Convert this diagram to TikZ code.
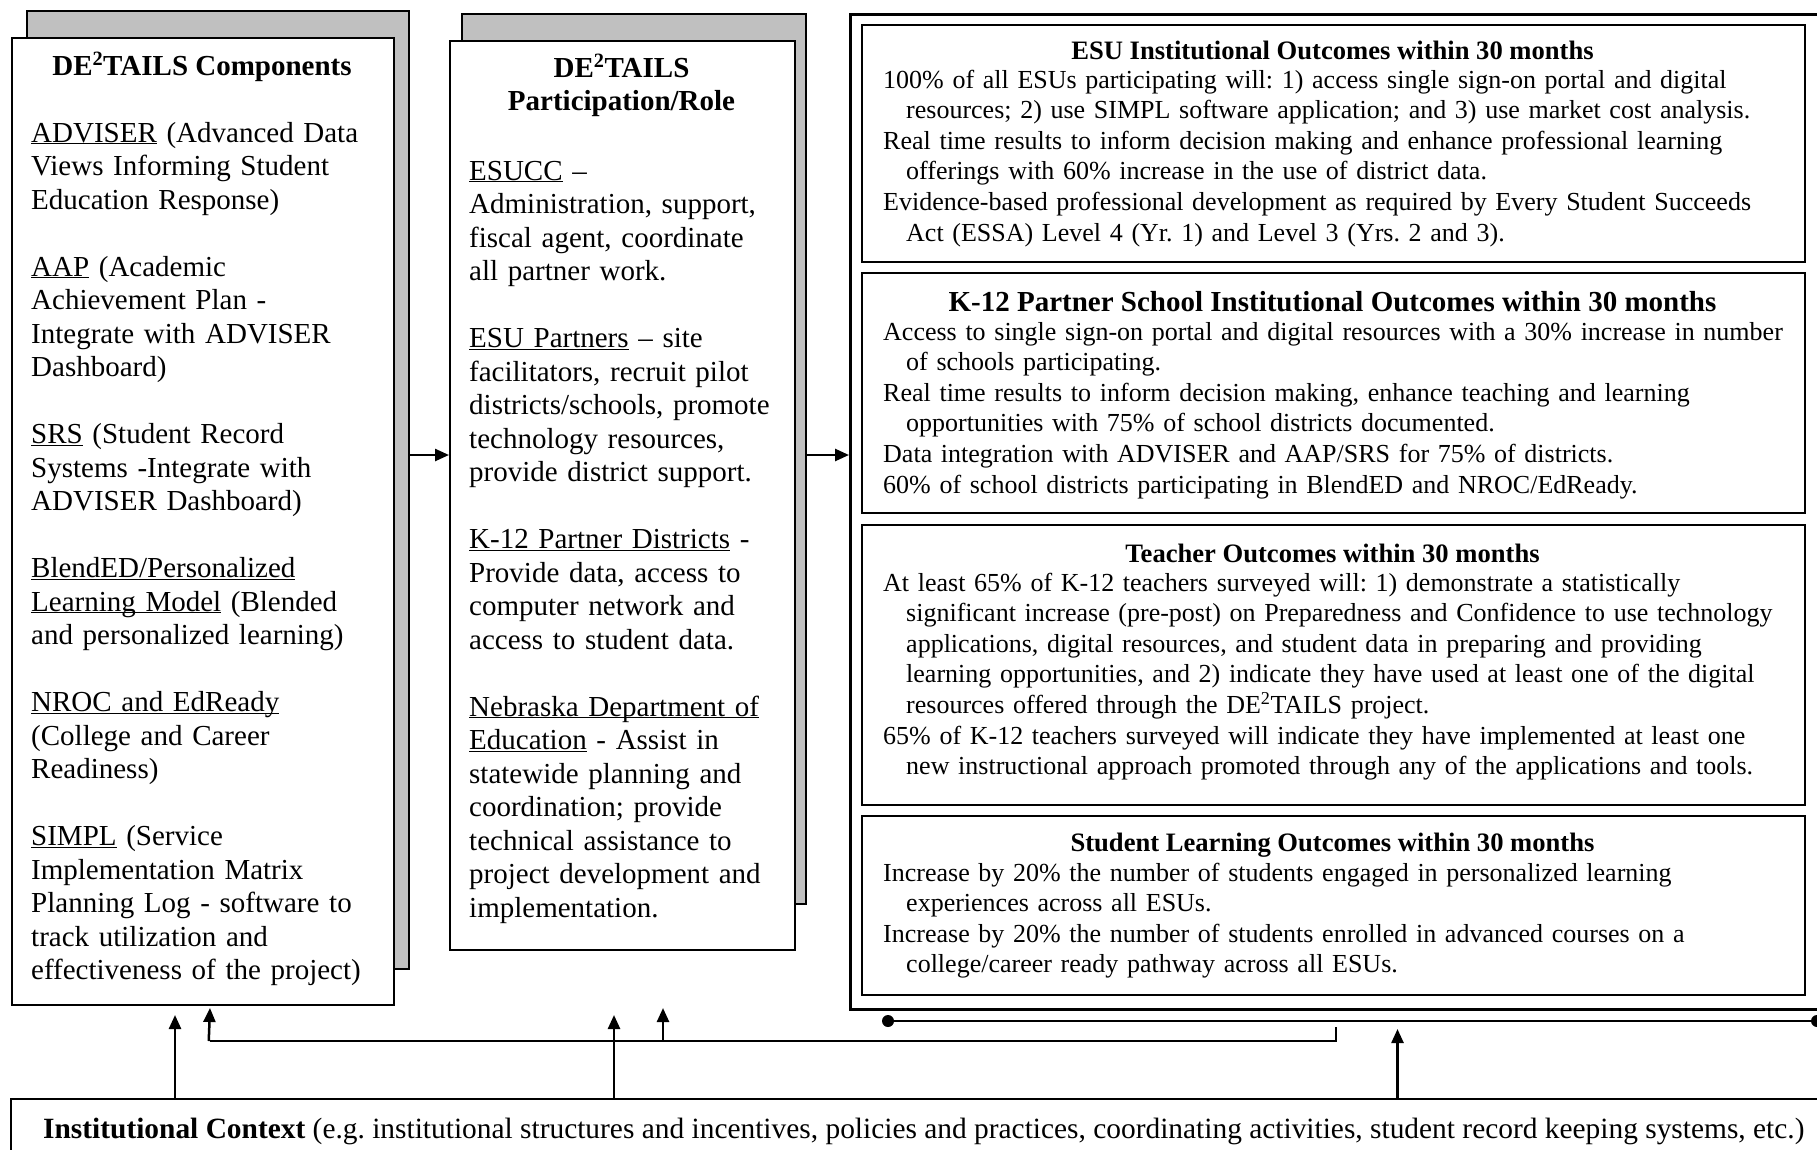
\documentclass[tikz,border=0pt]{standalone}
\usepackage{fontspec}
\setmainfont{Liberation Serif}
\usetikzlibrary{arrows.meta}
\definecolor{shade}{RGB}{192,192,192}
\newcommand\ulx[1]{\underline{\smash{#1}}}
\newcommand\firstitm{\hangindent=23pt\hangafter=1 }
\newcommand\itm{\par\hangindent=23pt\hangafter=1\noindent}
\newcommand\blankln{\newline\mbox{}\newline}
\newcommand\lfont{\fontsize{29pt}{33.5pt}\selectfont}
\newcommand\rfont{\fontsize{26pt}{30.6pt}\selectfont}
\newcommand\hfont{\fontsize{26.6pt}{30.6pt}\selectfont}
\begin{document}
\frenchspacing
\begin{tikzpicture}[x=1pt,y=-1pt,
  backbox/.style={draw, line width=1.6pt, fill=shade, rectangle, inner sep=0pt, anchor=north west},
  frontbox/.style={draw, line width=1.6pt, fill=white, rectangle, inner sep=0pt, anchor=north west},
  outbox/.style={draw, line width=3.4pt, fill=white, rectangle, inner sep=0pt, anchor=north west},
  txt/.style={inner sep=0pt, anchor=base west, text width=#1},
  head/.style={inner sep=0pt, anchor=base, font=\hfont\bfseries},
  conn/.style={line width=2.5pt},
  arr/.style={line width=2.5pt, -{Triangle[length=14pt,width=12pt]}},
  dot/.style={circle, fill=black, inner sep=0pt, minimum size=12pt}
]
\useasboundingbox (0,0) rectangle (1817,1149);
\clip (0,0) rectangle (1817,1149);
\fill[white] (0,0) rectangle (1817,1149);

% left column
\node[backbox, minimum width=382pt, minimum height=958pt] (compback) at (26,10) {};
\node[frontbox, minimum width=382pt, minimum height=967pt] (comp) at (11,37) {};
% middle column
\node[backbox, minimum width=344pt, minimum height=890pt] (roleback) at (461,13) {};
\node[frontbox, minimum width=345pt, minimum height=909pt] (role) at (449,40) {};
% outcomes
\node[outbox, minimum width=990pt, minimum height=995pt] (outer) at (849,13) {};
\node[frontbox, minimum width=943pt, minimum height=237pt] (b1) at (861,24) {};
\node[frontbox, minimum width=943pt, minimum height=240pt] (b2) at (861,272) {};
\node[frontbox, minimum width=943pt, minimum height=280pt] (b3) at (861,524) {};
\node[frontbox, minimum width=943pt, minimum height=179pt] (b4) at (861,815) {};
% context
\node[frontbox, minimum width=1840pt, minimum height=80pt] (ctx) at (10,1098) {};

% left text
\node[inner sep=0pt, anchor=base, font=\lfont\bfseries] (comptitle) at (202,75) {DE\textsuperscript{2}TAILS Components};
\node[txt=370pt, font=\lfont] (comptext) at (31,142) {%
\ulx{ADVISER} (Advanced Data\newline Views Informing Student\newline Education Response)\blankln
\ulx{AAP} (Academic\newline Achievement Plan -\newline Integrate with ADVISER\newline Dashboard)\blankln
\ulx{SRS} (Student Record\newline Systems -Integrate with\newline ADVISER Dashboard)\blankln
\ulx{BlendED/Personalized}\newline \ulx{Learning Model} (Blended\newline and personalized learning)\blankln
\ulx{NROC and EdReady}\newline (College and Career\newline Readiness)\blankln
\ulx{SIMPL} (Service\newline Implementation Matrix\newline Planning Log - software to\newline track utilization and\newline effectiveness of the project)};

% middle text
\node[inner sep=0pt, anchor=base, text width=340pt, font=\fontsize{29pt}{33pt}\selectfont\bfseries] (roletitle) at (621.5,77) {\centering DE\textsuperscript{2}TAILS\\ Participation/Role\par};
\node[txt=330pt, font=\lfont] (roletext) at (469,180) {%
\ulx{ESUCC} --\newline Administration, support,\newline fiscal agent, coordinate\newline all partner work.\blankln
\ulx{ESU Partners} -- site\newline facilitators, recruit pilot\newline districts/schools, promote\newline technology resources,\newline provide district support.\blankln
\ulx{K-12 Partner Districts} -\newline Provide data, access to\newline computer network and\newline access to student data.\blankln
\ulx{Nebraska Department of}\newline \ulx{Education} - Assist in\newline statewide planning and\newline coordination; provide\newline technical assistance to\newline project development and\newline implementation.};

% outcome boxes text
\node[head] (h1) at (1332.5,59) {ESU Institutional Outcomes within 30 months};
\node[txt=930pt, font=\rfont] (t1) at (883,88) {%
\firstitm 100\% of all ESUs participating will: 1) access single sign-on portal and digital\newline resources; 2) use SIMPL software application; and 3) use market cost analysis.
\itm Real time results to inform decision making and enhance professional learning\newline offerings with 60\% increase in the use of district data.
\itm Evidence-based professional development as required by Every Student Succeeds\newline Act (ESSA) Level 4 (Yr. 1) and Level 3 (Yrs. 2 and 3).\par};

\node[head, font=\fontsize{29pt}{33pt}\selectfont\bfseries] (h2) at (1332.5,311) {K-12 Partner School Institutional Outcomes within 30 months};
\node[txt=930pt, font=\rfont] (t2) at (883,340) {%
\firstitm Access to single sign-on portal and digital resources with a 30\% increase in number\newline of schools participating.
\itm Real time results to inform decision making, enhance teaching and learning\newline opportunities with 75\% of school districts documented.
\itm Data integration with ADVISER and AAP/SRS for 75\% of districts.
\itm 60\% of school districts participating in BlendED and NROC/EdReady.\par};

\node[head] (h3) at (1332.5,562) {Teacher Outcomes within 30 months};
\node[txt=930pt, font=\rfont] (t3) at (883,591) {%
\firstitm At least 65\% of K-12 teachers surveyed will: 1) demonstrate a statistically\newline significant increase (pre-post) on Preparedness and Confidence to use technology\newline applications, digital resources, and student data in preparing and providing\newline learning opportunities, and 2) indicate they have used at least one of the digital\newline resources offered through the DE\textsuperscript{2}TAILS project.
\itm 65\% of K-12 teachers surveyed will indicate they have implemented at least one\newline new instructional approach promoted through any of the applications and tools.\par};

\node[head] (h4) at (1332.5,851) {Student Learning Outcomes within 30 months};
\node[txt=930pt, font=\rfont] (t4) at (883,881) {%
\firstitm Increase by 20\% the number of students engaged in personalized learning\newline experiences across all ESUs.
\itm Increase by 20\% the number of students enrolled in advanced courses on a\newline college/career ready pathway across all ESUs.\par};

% context text
\node[inner sep=0pt, anchor=base west, font=\fontsize{29.4pt}{33pt}\selectfont] (ctxtext) at (43,1138) {\textbf{Institutional Context} (e.g. institutional structures and incentives, policies and practices, coordinating activities, student record keeping systems, etc.)};

% connectors
\coordinate (h) at (0,455);
\draw[arr] (compback.east |- h) -- (role.west |- h);
\draw[arr] (roleback.east |- h) -- (outer.west |- h);

\coordinate (a1) at (175,1015);
\coordinate (a2) at (210,1008);
\coordinate (a3) at (614,1015);
\coordinate (a4) at (663,1008);
\coordinate (a5) at (1397.5,1029);
\coordinate (br) at (1336,1041);
\coordinate (brtop) at (1336,1027);
\draw[arr] (ctx.north -| a1) -- (a1);
\draw[arr] (ctx.north -| a3) -- (a3);
\draw[arr] (ctx.north -| a5) -- (a5);
\draw[conn] (brtop) -- (br) -- (a2 |- br);
\draw[arr] ([xshift=-1.25pt]a2 |- br) -- (a2);
\draw[arr] (a4 |- br) -- (a4);

\node[dot] (d1) at (888,1021) {};
\node[dot] (d2) at (1817,1021) {};
\draw[conn] (d1) -- (d2);
\end{tikzpicture}
\end{document}
